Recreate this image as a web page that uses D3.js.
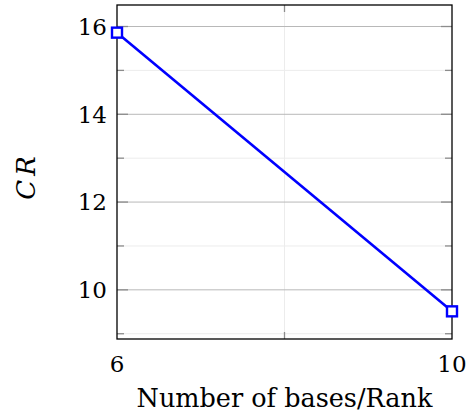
<!DOCTYPE html>
<html>
<head>
<meta charset="utf-8">
<script src="https://cdn.jsdelivr.net/npm/d3@7"></script>
<style>
  html, body { margin: 0; padding: 0; background: #fff; }
  svg { display: block; }
  text { font-family: "DejaVu Serif", "Liberation Serif", serif; fill: #000; }
</style>
</head>
<body>
<svg id="chart" width="467" height="416"></svg>
<script>
// Compression ratio against the number of bases (rank)
const ranks = [6, 10];
const crValues = [15.86, 9.51];
const xTicks = [6, 10];
const xMinorTicks = [8];
const yTicks = [10, 12, 14, 16];
const yMinorTicks = [9, 11, 13, 15];

const svg = d3.select("#chart");
const plot = { left: 117, right: 452, top: 5, bottom: 339 };

const x = d3.scaleLinear().domain([6, 10]).range([plot.left, plot.right]);
const y = d3.scaleLinear().domain([8.88, 16.49]).range([plot.bottom, plot.top]);

const g = svg.append("g");

// minor grid
g.selectAll("line.ygm").data(yMinorTicks).enter().append("line")
  .attr("x1", plot.left).attr("x2", plot.right)
  .attr("y1", d => y(d)).attr("y2", d => y(d))
  .attr("stroke", "#ececec").attr("stroke-width", 1);
g.selectAll("line.xgm").data(xMinorTicks).enter().append("line")
  .attr("x1", d => x(d)).attr("x2", d => x(d))
  .attr("y1", plot.top).attr("y2", plot.bottom)
  .attr("stroke", "#ececec").attr("stroke-width", 1);

// major grid
g.selectAll("line.ygM").data(yTicks).enter().append("line")
  .attr("x1", plot.left).attr("x2", plot.right)
  .attr("y1", d => y(d)).attr("y2", d => y(d))
  .attr("stroke", "#b8b8b8").attr("stroke-width", 1);

// tick marks on all four sides
const tickCol = "#8c8c8c";
yTicks.forEach(v => {
  g.append("line").attr("x1", plot.left).attr("x2", plot.left + 11)
    .attr("y1", y(v)).attr("y2", y(v)).attr("stroke", tickCol).attr("stroke-width", 1.3);
  g.append("line").attr("x1", plot.right - 11).attr("x2", plot.right)
    .attr("y1", y(v)).attr("y2", y(v)).attr("stroke", tickCol).attr("stroke-width", 1.3);
});
yMinorTicks.forEach(v => {
  g.append("line").attr("x1", plot.left).attr("x2", plot.left + 7)
    .attr("y1", y(v)).attr("y2", y(v)).attr("stroke", tickCol).attr("stroke-width", 1.3);
  g.append("line").attr("x1", plot.right - 7).attr("x2", plot.right)
    .attr("y1", y(v)).attr("y2", y(v)).attr("stroke", tickCol).attr("stroke-width", 1.3);
});
xMinorTicks.forEach(v => {
  g.append("line").attr("x1", x(v)).attr("x2", x(v))
    .attr("y1", plot.bottom).attr("y2", plot.bottom - 7).attr("stroke", tickCol).attr("stroke-width", 1.3);
  g.append("line").attr("x1", x(v)).attr("x2", x(v))
    .attr("y1", plot.top).attr("y2", plot.top + 7).attr("stroke", tickCol).attr("stroke-width", 1.3);
});

// frame
g.append("rect")
  .attr("x", plot.left).attr("y", plot.top)
  .attr("width", plot.right - plot.left).attr("height", plot.bottom - plot.top)
  .attr("fill", "none").attr("stroke", "#000").attr("stroke-width", 1.3);

// tick labels
g.selectAll("text.yl").data(yTicks).enter().append("text")
  .attr("x", plot.left - 10).attr("y", d => y(d))
  .attr("dy", "0.36em").attr("text-anchor", "end")
  .style("font-size", "23px")
  .text(d => d);
g.selectAll("text.xl").data(xTicks).enter().append("text")
  .attr("x", d => x(d)).attr("y", plot.bottom + 33)
  .attr("text-anchor", "middle")
  .style("font-size", "23px")
  .text(d => d);

// axis titles
svg.append("text")
  .attr("x", x(8)).attr("y", 407)
  .attr("text-anchor", "middle")
  .style("font-size", "25.5px")
  .text("Number of bases/Rank");
svg.append("text")
  .attr("transform", "translate(35, 176) rotate(-90)")
  .attr("text-anchor", "middle")
  .style("font-size", "26px").style("font-style", "italic")
  .style("letter-spacing", "4px")
  .text("CR");

// series
const pts = ranks.map((r, i) => [r, crValues[i]]);
const line = d3.line().x(d => x(d[0])).y(d => y(d[1]));
g.append("path").datum(pts)
  .attr("d", line).attr("fill", "none")
  .attr("stroke", "#0000ff").attr("stroke-width", 2.6);
g.selectAll("rect.m").data(pts).enter().append("rect")
  .attr("x", d => x(d[0]) - 5).attr("y", d => y(d[1]) - 5)
  .attr("width", 10).attr("height", 10)
  .attr("fill", "#fff").attr("stroke", "#0000ff").attr("stroke-width", 2.4);
</script>
</body>
</html>
